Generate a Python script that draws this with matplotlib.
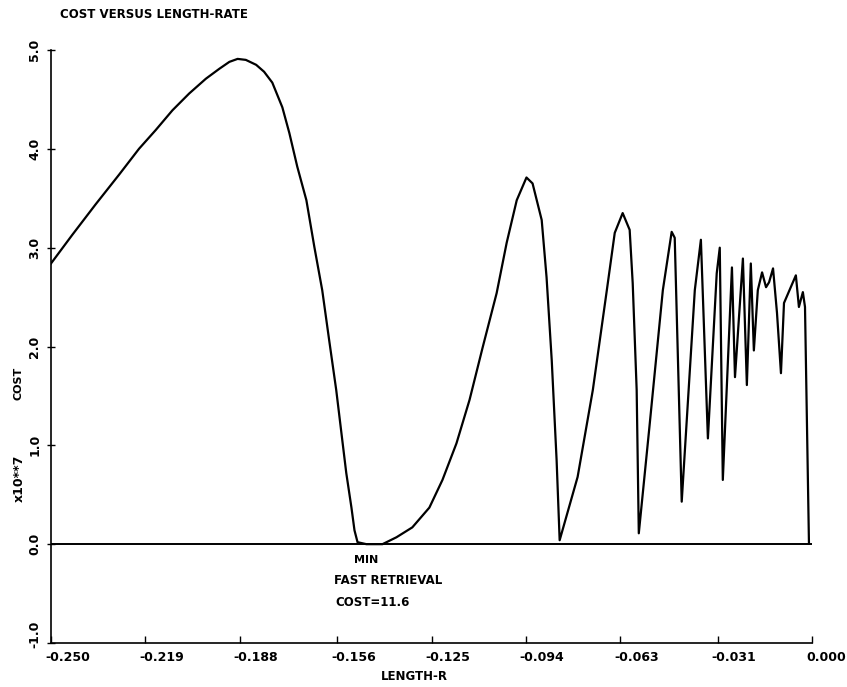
"""
Cost versus length-rate curve (scanned plot recreation).
"""

import matplotlib
matplotlib.use("Agg")
import matplotlib.pyplot as plt
from matplotlib.transforms import ScaledTranslation

plt.rcParams["font.family"] = ["DejaVu Sans"]
plt.rcParams["font.weight"] = "bold"

# ---- data ----
length_r = [
    -0.2500, -0.2430, -0.2353, -0.2276, -0.2211, -0.2156, -0.2101, -0.2046,
    -0.1991, -0.1947, -0.1914, -0.1887, -0.1860, -0.1826, -0.1800, -0.1773,
    -0.1740, -0.1717, -0.1691, -0.1661, -0.1635, -0.1609, -0.1586, -0.1563,
    -0.1543, -0.1530, -0.1513, -0.1503, -0.1493, -0.1464, -0.1411, -0.1365,
    -0.1313, -0.1257, -0.1214, -0.1168, -0.1125, -0.1082, -0.1036, -0.1003,
    -0.0970, -0.0938, -0.0918, -0.0888, -0.0872, -0.0855, -0.0839, -0.0829,
    -0.0770, -0.0720, -0.0674, -0.0648, -0.0622, -0.0599, -0.0589, -0.0576,
    -0.0569, -0.0533, -0.0490, -0.0461, -0.0451, -0.0428, -0.0385, -0.0365,
    -0.0342, -0.0313, -0.0303, -0.0293, -0.0263, -0.0253, -0.0227, -0.0214,
    -0.0201, -0.0191, -0.0178, -0.0164, -0.0151, -0.0141, -0.0128, -0.0115,
    -0.0102, -0.0092, -0.0053, -0.0043, -0.0030, -0.0023, -0.0010,
]
cost = [
    2.84, 3.13, 3.44, 3.74, 4.00, 4.19, 4.39, 4.56,
    4.71, 4.81, 4.88, 4.91, 4.90, 4.85, 4.78, 4.67,
    4.42, 4.16, 3.82, 3.48, 3.01, 2.57, 2.06, 1.56,
    1.05, 0.72, 0.37, 0.14, 0.02, 0.00, 0.00, 0.07,
    0.17, 0.37, 0.65, 1.02, 1.46, 1.99, 2.54, 3.05,
    3.48, 3.71, 3.65, 3.28, 2.70, 1.86, 0.85, 0.04,
    0.68, 1.56, 2.57, 3.15, 3.35, 3.18, 2.64, 1.56,
    0.11, 1.22, 2.57, 3.16, 3.10, 0.43, 2.57, 3.08,
    1.07, 2.74, 3.00, 0.65, 2.80, 1.69, 2.89, 1.61,
    2.84, 1.96, 2.57, 2.75, 2.60, 2.65, 2.79, 2.34,
    1.73, 2.44, 2.72, 2.40, 2.55, 2.40, 0.01,
]

x_ticks = [-0.250, -0.219, -0.188, -0.156, -0.125, -0.094, -0.063, -0.031, 0.000]
x_labels = ["-0.250", "-0.219", "-0.188", "-0.156", "-0.125",
            "-0.094", "-0.063", "-0.031", "0.000"]
y_ticks = [-1.0, 0.0, 1.0, 2.0, 3.0, 4.0, 5.0]
y_labels = ["-1.0", "0.0", "1.0", "2.0", "3.0", "4.0", "5.0"]

W, H = 847, 687
fig = plt.figure(figsize=(W / 100, H / 100), dpi=100)
fig.patch.set_facecolor("white")
ax = fig.add_axes([51 / W, 1 - 643 / H, 761 / W, 593 / H])

ax.plot(length_r, cost, color="black", linewidth=1.6, solid_joinstyle="round")
ax.axhline(0, color="black", linewidth=1.4)

ax.set_xlim(-0.25, 0.0)
ax.set_ylim(-1.0, 5.0)
ax.set_xticks(x_ticks)
ax.set_xticklabels(x_labels, fontsize=9, fontweight="bold", ha="left")
ax.set_yticks(y_ticks)
ax.set_yticklabels(y_labels, fontsize=9, fontweight="bold", rotation=90,
                   va="center")
ax.tick_params(axis="x", direction="in", length=5, width=1, pad=6)
ax.tick_params(axis="y", direction="inout", length=6, width=1, pad=4)

# x labels sit just right of their ticks; the -1.0 label sits a bit high
for lab in ax.get_xticklabels():
    lab.set_transform(lab.get_transform()
                      + ScaledTranslation(-6 / 100, 0, fig.dpi_scale_trans))
ylab_low = ax.get_yticklabels()[0]
ylab_low.set_transform(ylab_low.get_transform()
                       + ScaledTranslation(0, 9 / 100, fig.dpi_scale_trans))

ax.spines["top"].set_visible(False)
ax.spines["right"].set_visible(False)
for side in ("left", "bottom"):
    ax.spines[side].set_linewidth(1.2)

# annotation at the minimum
ax.text(-0.1505, -0.16, "MIN", fontsize=8, fontweight="bold", va="center")
ax.text(-0.1570, -0.37, "FAST RETRIEVAL", fontsize=8.5, fontweight="bold",
        va="center")
ax.text(-0.1565, -0.59, "COST=11.6", fontsize=8.5, fontweight="bold",
        va="center")

fig.text(60 / W, 1 - 14 / H, "COST VERSUS LENGTH-RATE", fontsize=8.5,
         fontweight="bold", va="center", ha="left")
fig.text(414 / W, 1 - 677 / H, "LENGTH-R", fontsize=8.5, fontweight="bold",
         va="center", ha="center")
fig.text(19 / W, 1 - 383 / H, "COST", fontsize=8, fontweight="bold",
         rotation=90, va="center", ha="center")
fig.text(19 / W, 1 - 478 / H, "x10**7", fontsize=9, fontweight="bold",
         rotation=90, va="center", ha="center")

fig.savefig("out.png", dpi=100, facecolor="white")
